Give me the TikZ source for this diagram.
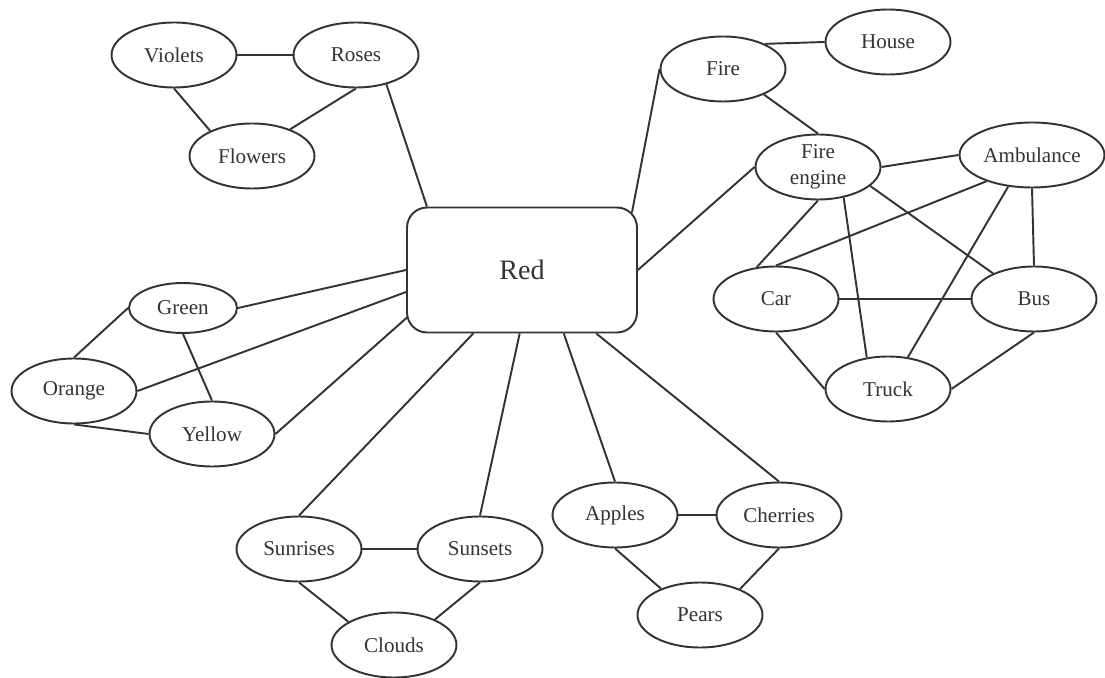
\documentclass[tikz,border=0pt]{standalone}
\usepackage{fontspec}
\setmainfont{Liberation Serif}
\usetikzlibrary{shapes.geometric,calc}
\begin{document}
\begin{tikzpicture}[x=0.02cm, y=-0.02cm, line width=1.1pt, color=black!80,
  nodes={draw, ellipse, minimum width=2.5cm, minimum height=1.3cm, inner sep=0pt, font=\fontsize{12}{13}\selectfont}]
 \useasboundingbox (0,0) rectangle (1105,678);
 \node (violets) at (174,55) {Violets};
 \node (roses) at (356,55) {Roses};
 \node (flowers) at (252,156) {Flowers};
 \node[rectangle, rounded corners=0.4cm, minimum width=4.6cm, minimum height=2.5cm,
   font=\fontsize{16}{18}\selectfont] (red) at (522,270) {Red};
 \node (fire) at (723,69) {Fire};
 \node (house) at (888,42) {House};
 \node[align=center, font=\fontsize{12}{15}\selectfont] (engine) at (818,167) {Fire\\engine};
 \node[minimum width=2.9cm] (ambulance) at (1032,155) {Ambulance};
 \node (car) at (776,299) {Car};
 \node (bus) at (1034,299) {Bus};
 \node (truck) at (888,389) {Truck};
 \node[minimum width=2.16cm, minimum height=1cm] (green) at (183,308) {Green};
 \node (orange) at (74,391) {Orange};
 \node (yellow) at (212,434) {Yellow};
 \node (sunrises) at (299,549) {Sunrises};
 \node (sunsets) at (480,549) {Sunsets};
 \node (clouds) at (394,645) {Clouds};
 \node (apples) at (615,515) {Apples};
 \node (cherries) at (779,515) {Cherries};
 \node (pears) at (700,615) {Pears};
 % flowers
 \draw (violets) -- (roses);
 \draw (violets.south) -- (flowers.149);
 \draw (roses.south) -- (flowers.35);
 \draw (roses.316) -- ($(red.north west)!.09!(red.north east)$);
 % fire and vehicles
 \draw (fire.31) -- (house.west);
 \draw (fire.west) -- ($(red.north east)+(-6,6)$);
 \draw (fire.328) -- (engine.north);
 \draw (engine.east) -- (ambulance.west);
 \draw (engine.west) -- (red.east);
 \draw (engine.south) -- (car.121);
 \draw (engine.310) -- (truck.124);
 \draw (engine.340) -- (bus.148);
 \draw (ambulance.210) -- (car.north);
 \draw (ambulance.233) -- (truck.58);
 \draw (ambulance.south) -- (bus.north);
 \draw (car) -- (bus);
 \draw (car.south) -- (truck.west);
 \draw (bus.south) -- (truck.east);
 % colours
 \draw (green.east) -- (red.west);
 \draw (green.west) -- (orange.north);
 \draw (green.south) -- (yellow.north);
 \draw (orange.east) -- ($(red.west)+(0,22)$);
 \draw (orange.south) -- (yellow.west);
 \draw (yellow.east) -- ($(red.south west)+(1,-16)$);
 % sky
 \draw (sunrises.north) -- ($(red.south west)!.29!(red.south east)$);
 \draw (sunsets.north) -- ($(red.south west)!.49!(red.south east)$);
 \draw (sunrises) -- (sunsets);
 \draw (sunrises.south) -- (clouds.153);
 \draw (sunsets.south) -- (clouds.32);
 % fruit
 \draw (apples.north) -- ($(red.south west)!.68!(red.south east)$);
 \draw (cherries.north) -- ($(red.south west)!.82!(red.south east)$);
 \draw (apples) -- (cherries);
 \draw (apples.south) -- (pears.146);
 \draw (cherries.south) -- (pears.33);
\end{tikzpicture}
\end{document}
